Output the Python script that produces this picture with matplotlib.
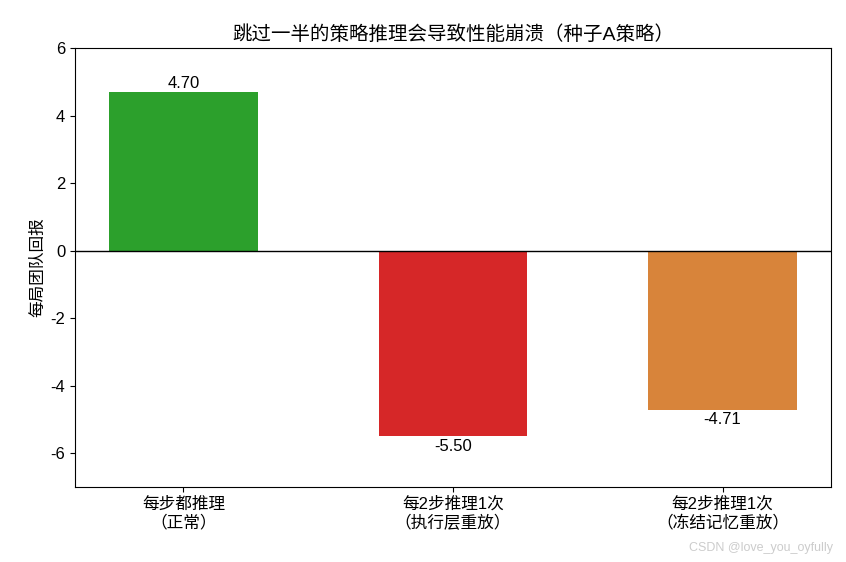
import matplotlib
matplotlib.use("Agg")
import matplotlib.pyplot as plt

plt.rcParams['font.family'] = ['Liberation Sans', 'Noto Sans CJK SC', 'DejaVu Sans']
plt.rcParams['axes.unicode_minus'] = False

categories = ['每步都推理\n（正常）', '每2步推理1次\n（执行层重放）', '每2步推理1次\n（冻结记忆重放）']
values = [4.70, -5.50, -4.71]
colors = ['#2ca02c', '#d62728', '#d8843a']

fig = plt.figure(figsize=(8.46, 5.62), dpi=100)
ax = fig.add_axes([75/846, 1-487/562, (831-75)/846, (487-48)/562])
x = range(len(values))
bars = ax.bar(x, values, width=0.55, color=colors)
ax.axhline(0, color='black', linewidth=1)
for xi, v in zip(x, values):
    ax.text(xi, v + (0.03 if v > 0 else -0.08), f'{v:.2f}', ha='center',
            va='bottom' if v > 0 else 'top', fontsize=12)
ax.set_xticks(list(x))
ax.set_xticklabels(categories, fontsize=12)
ax.set_ylim(-7, 6)
ax.set_yticks([-6, -4, -2, 0, 2, 4, 6])
ax.tick_params(axis='y', labelsize=12)
ax.set_ylabel('每局团队回报', fontsize=12)
ax.set_title('跳过一半的策略推理会导致性能崩溃（种子A策略）', fontsize=14)
fig.text(0.985, 0.015, 'CSDN @love_you_oyfully', ha='right', va='bottom', fontsize=9, color='#cccccc')
fig.savefig('out.png', dpi=100)
